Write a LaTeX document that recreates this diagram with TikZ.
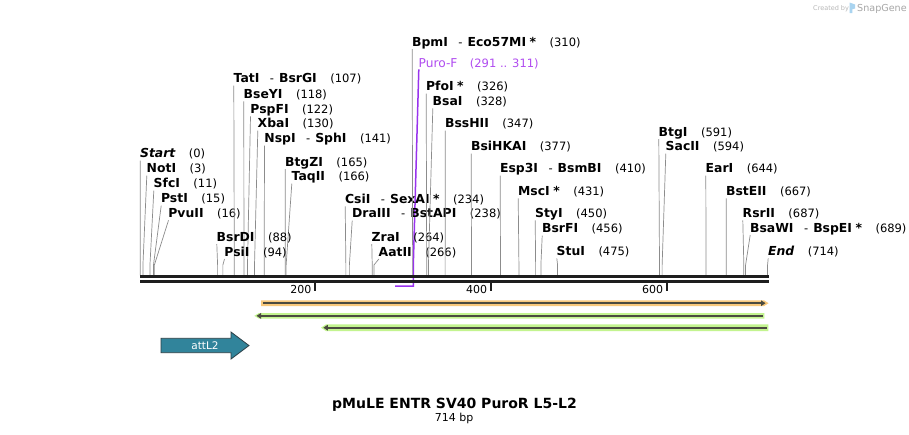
\documentclass[tikz,border=0pt]{standalone}
\usepackage{fontspec}
\setmainfont{DejaVu Sans}
\usetikzlibrary{arrows.meta}
\definecolor{orfill}{HTML}{F9C97C}
\definecolor{grfill}{HTML}{C3F48F}
\definecolor{featdark}{HTML}{4B4B40}
\definecolor{teal2}{HTML}{31849B}
\definecolor{tealedge}{HTML}{2B3E45}
\definecolor{purtext}{HTML}{B04CF0}
\definecolor{purline}{HTML}{9933EE}
\definecolor{cutgray}{HTML}{8C8C8C}
\definecolor{seqblack}{HTML}{1E1E1E}
\definecolor{logoblue}{HTML}{A9D4F0}
\newcommand\en[1]{{\fontsize{12.4}{14}\selectfont\bfseries #1}}
\newcommand\enit[1]{{\fontsize{12.4}{14}\selectfont\bfseries\itshape #1}}
\newcommand\ej{\hspace{10.5pt}-\hspace{5pt}}
\newcommand\ec[1]{\hspace{13.5pt}(#1)}
\newcommand\es{\hspace{3.5pt}{\fontsize{12.4}{14}\selectfont\bfseries *}}
\newcommand\enz[5]{%
  \node[lab] (#1) at (#2-0.8,#3) {#4};
  \coordinate (#1k) at ({140.3+0.8785*(#5)},265);
  \coordinate (#1s) at ({140.3+0.8785*(#5)},275.3);
  \draw[cutline] ([xshift=0.3pt,yshift=-3pt]#1.base west) -- (#1k) -- (#1s);
}
\begin{document}
\begin{tikzpicture}[x=1pt,y=-1pt,
  lab/.style={inner sep=0pt, anchor=base west, font=\fontsize{11.5}{13}\selectfont},
  cutline/.style={draw=cutgray, line width=0.7pt},
  seqline/.style={draw=seqblack},
  ticklab/.style={inner sep=0pt, anchor=base east, font=\fontsize{11}{13}\selectfont},
  featline/.style={draw=featdark, line width=2pt},
]
\useasboundingbox[fill=white] (0,0) rectangle (909,434);

% primer Puro-F (drawn below sequence lines)
\node[lab, text=purtext] (puro) at (418.5,67.3) {{\fontsize{12.2}{14}\selectfont Puro-F}\hspace{12.5pt}(291 .. 311)};
\coordinate (purok) at (413.3,265);
\coordinate (purob) at (413.3,286);
\coordinate (puroe) at (395,286);
\draw[draw=purline, line width=1.5pt] ([xshift=0.3pt,yshift=-2pt]puro.base west) -- (purok) -- (purob) -- (puroe);

% enzymes
\enz{eStart}{140.7}{157.7}{\enit{Start}\ec{0}}{0}
\enz{noti}{147.3}{172.7}{\en{NotI}\ec{3}}{3}
\enz{sfci}{154.3}{187.7}{\en{SfcI}\ec{11}}{11}
\enz{psti}{161.7}{202.7}{\en{PstI}\ec{15}}{15}
\enz{pvuii}{169}{217.3}{\en{PvuII}\ec{16}}{16}
\enz{tati}{234.3}{82.7}{\en{TatI}\ej\en{BsrGI}\ec{107}}{107}
\enz{bseyi}{244.3}{98.3}{\en{BseYI}\ec{118}}{118}
\enz{pspfi}{251}{113.3}{\en{PspFI}\ec{122}}{122}
\enz{xbai}{258.3}{127.7}{\en{XbaI}\ec{130}}{130}
\enz{nspi}{265}{142.7}{\en{NspI}\ej\en{SphI}\ec{141}}{141}
\enz{btgzi}{285.7}{166}{\en{BtgZI}\ec{165}}{165}
\enz{taqii}{292.3}{180.7}{\en{TaqII}\ec{166}}{166}
\enz{bsrdi}{217.3}{241}{\en{BsrDI}\ec{88}}{88}
\enz{psii}{225}{256}{\en{PsiI}\ec{94}}{94}
\enz{csii}{345.7}{203.3}{\en{CsiI}\ej\en{SexAI}\es\ec{234}}{234}
\enz{draiii}{352.7}{217.7}{\en{DraIII}\ej\en{BstAPI}\ec{238}}{238}
\enz{zrai}{372.3}{241}{\en{ZraI}\ec{264}}{264}
\enz{aatii}{379.3}{256}{\en{AatII}\ec{266}}{266}
\enz{bpmi}{412.7}{46}{\en{BpmI}\ej\en{Eco57MI}\es\ec{310}}{310}
\enz{pfoi}{426.7}{90.7}{\en{PfoI}\es\ec{326}}{326}
\enz{bsai}{433.3}{105.3}{\en{BsaI}\ec{328}}{328}
\enz{bsshii}{445.7}{127.7}{\en{BssHII}\ec{347}}{347}
\enz{bsihkai}{471.7}{150.5}{\en{BsiHKAI}\ec{377}}{377}
\enz{esp3i}{500.7}{172.7}{\en{Esp3I}\ej\en{BsmBI}\ec{410}}{410}
\enz{msci}{518.7}{195.3}{\en{MscI}\es\ec{431}}{431}
\enz{styi}{535.7}{217.3}{\en{StyI}\ec{450}}{450}
\enz{bsrfi}{542.7}{232.7}{\en{BsrFI}\ec{456}}{456}
\enz{stui}{557.3}{255.3}{\en{StuI}\ec{475}}{475}
\enz{btgi}{659.3}{136}{\en{BtgI}\ec{591}}{591}
\enz{sacii}{666.3}{150.7}{\en{SacII}\ec{594}}{594}
\enz{eari}{706.3}{172.7}{\en{EarI}\ec{644}}{644}
\enz{bsteii}{726.7}{195.3}{\en{BstEII}\ec{667}}{667}
\enz{rsrii}{743.3}{217.3}{\en{RsrII}\ec{687}}{687}
\enz{bsawi}{750.7}{232}{\en{BsaWI}\ej\en{BspEI}\es\ec{689}}{689}
\enz{eEnd}{768.7}{255.3}{\enit{End}\ec{714}}{714}

% sequence double line
\coordinate (seqL) at (140,276.6);
\coordinate (seqR) at (768.5,276.6);
\coordinate (seqL2) at (140,281.4);
\coordinate (seqR2) at (768.5,281.4);
\draw[seqline, line width=3.1pt] (seqL) -- (seqR);
\draw[seqline, line width=2.5pt] (seqL2) -- (seqR2);

% ticks
\foreach \tx/\tl in {315/200, 490.7/400, 666.7/600} {
  \draw[seqline, line width=2pt] (\tx,283) -- (\tx,291);
  \node[ticklab] (tick\tl) at (\tx-3.5,293.5) {\tl};
}

% features
\fill[orfill] (261,300.3) -- (764,300.3) -- (768.5,303.2) -- (764,306.1) -- (261,306.1) -- cycle;
\draw[featline, -{Triangle[length=4.5pt,width=5.5pt]}] (263,303.2) -- (765.5,303.2);

\fill[grfill] (259,313) -- (764.3,313) -- (764.3,318.7) -- (259,318.7) -- (254.3,315.85) -- cycle;
\draw[featline, -{Triangle[length=4.5pt,width=5.5pt]}] (762.5,315.85) -- (256.5,315.85);

\fill[grfill] (326,324.4) -- (768.3,324.4) -- (768.3,331) -- (326,331) -- (321,327.7) -- cycle;
\draw[featline, -{Triangle[length=4.5pt,width=5.5pt]}] (766.5,327.7) -- (323.3,327.7);

% attL2
\draw[fill=teal2, draw=tealedge, line width=0.8pt]
  (161,338.3) -- (231,338.3) -- (231,332) -- (249,345.5) -- (231,359) -- (231,352.7) -- (161,352.7) -- cycle;
\node[inner sep=0pt, text=white, font=\fontsize{10.5}{12}\selectfont] (attL2) at (205,345.5) {attL2};

% title
\node[inner sep=0pt, anchor=base, font=\fontsize{14}{16}\selectfont\bfseries] (title) at (454.5,408.3) {pMuLE ENTR SV40 PuroR L5-L2};
\node[inner sep=0pt, anchor=base, font=\fontsize{11}{13}\selectfont] (len) at (454.2,421.7) {714 bp};

% watermark
\node[inner sep=0pt, anchor=base west, text=black!28, font=\fontsize{6.5}{8}\selectfont] (wm1) at (813,10.5) {Created by};
\fill[logoblue] (849.5,2.5) -- (855,4.5) -- (855,8.5) -- (852.3,9.3) -- (852.3,13) -- (849.5,13) -- cycle;
\node[inner sep=0pt, anchor=base west, text=black!35, font=\fontsize{9.6}{11}\selectfont] (wm2) at (857,11) {SnapGene};
\end{tikzpicture}
\end{document}
